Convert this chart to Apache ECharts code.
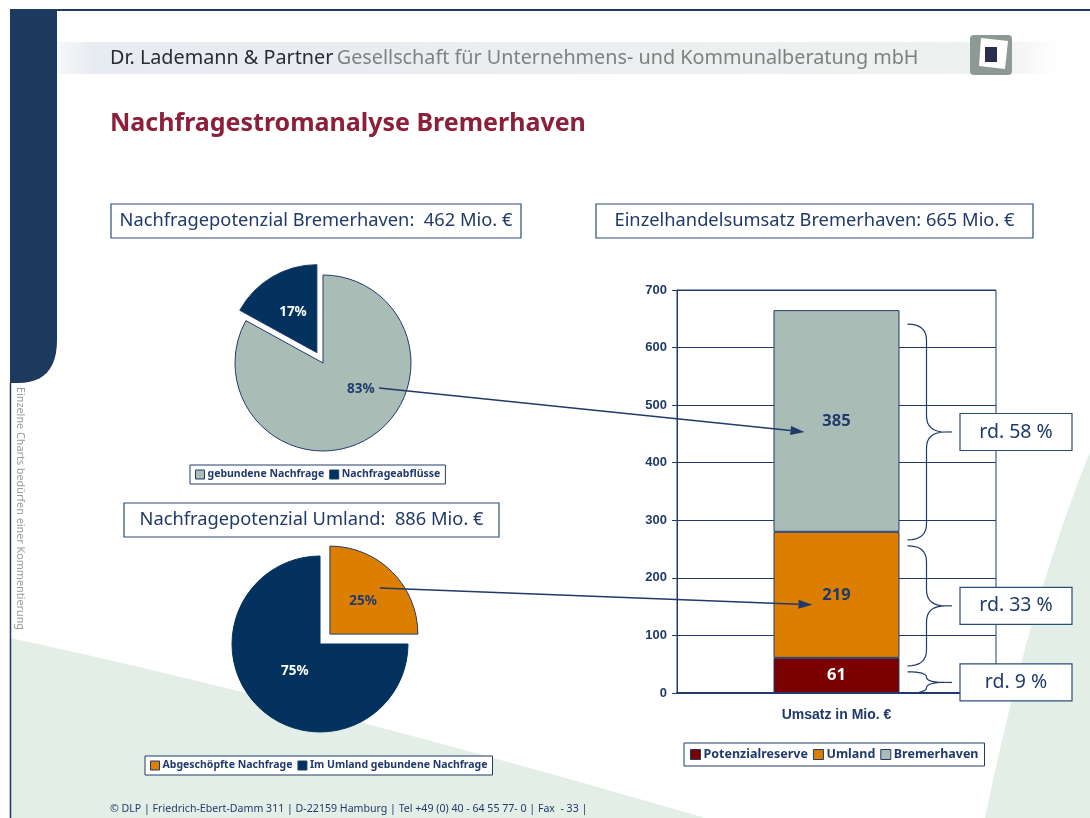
<!DOCTYPE html>
<html>
<head>
<meta charset="utf-8">
<title>Nachfragestromanalyse Bremerhaven</title>
<script src="https://cdn.jsdelivr.net/npm/echarts@6/dist/echarts.min.js"></script>
<style>
  html, body { margin: 0; padding: 0; background: #fff; }
  #chart { width: 1090px; height: 818px; }
</style>
</head>
<body>
<div id="chart"></div>
<script>
// Daten
const bremerhavenNames = ['gebundene Nachfrage', 'Nachfrageabflüsse']
const bremerhavenShares = [83, 17]
const umlandNames = ['Abgeschöpfte Nachfrage', 'Im Umland gebundene Nachfrage']
const umlandShares = [25, 75]
const umsatzCategories = ['Umsatz in Mio. €']
const umsatzSeriesNames = ['Potenzialreserve', 'Umland', 'Bremerhaven']
const potenzialreserve = [61]
const umland = [219]
const bremerhaven = [385]
const yTickMin = 0
const yTickMax = 700
const yTickStep = 100

const navy = '#1f3a6b'
const font = '"Noto Sans", sans-serif'
const arial = '"Liberation Sans", Arial, sans-serif'
const colors = {
  gray: '#a9bdb6',
  dark: '#03325f',
  orange: '#dc7f00',
  red: '#7b0000'
}

const chart = echarts.init(document.getElementById('chart'))

const legendBase = (size) => ({
  orient: 'horizontal',
  icon: 'rect',
  itemWidth: 9,
  itemHeight: 9,
  itemGap: 5,
  selectedMode: false,
  borderColor: navy,
  borderWidth: 1,
  padding: [4, 5],
  backgroundColor: '#fff',
  itemStyle: { borderColor: navy, borderWidth: 1 },
  textStyle: { color: navy, fontWeight: 'bold', fontSize: size, fontFamily: font, padding: [0, 0, 0, -2] }
})

const pieLabel = (color) => ({
  show: true,
  position: 'inside',
  formatter: '{c}%',
  color: color,
  fontSize: 13.5,
  fontWeight: 'bold',
  fontFamily: font
})

const barLabel = (color) => ({
  show: true, position: 'inside', color: color, fontSize: 16.5, fontWeight: 'bold', fontFamily: font
})

const option = {
  animation: false,
  legend: [
    Object.assign(legendBase(10.5), { left: 190, top: 465, data: bremerhavenNames }),
    Object.assign(legendBase(10.5), { left: 145, top: 756, data: umlandNames }),
    Object.assign(legendBase(12.5), { left: 684, top: 743, padding: [5, 6], itemWidth: 10, itemHeight: 10, data: umsatzSeriesNames })
  ],
  grid: { left: 677, top: 290, width: 319, height: 403, show: true, borderColor: navy, borderWidth: 1, backgroundColor: 'transparent' },
  xAxis: {
    type: 'category',
    data: umsatzCategories,
    axisLine: { lineStyle: { color: navy, width: 2 } },
    axisTick: { show: false },
    axisLabel: { color: navy, fontWeight: 'bold', fontSize: 14, fontFamily: arial, margin: 15 }
  },
  yAxis: {
    type: 'value',
    min: yTickMin,
    max: yTickMax,
    interval: yTickStep,
    axisLine: { show: true, lineStyle: { color: navy, width: 1 } },
    axisTick: { show: true, length: 5, lineStyle: { color: navy } },
    splitLine: { lineStyle: { color: navy, width: 1 } },
    axisLabel: { color: navy, fontWeight: 'bold', fontSize: 13, fontFamily: arial, margin: 10 }
  },
  series: [
    {
      type: 'pie',
      center: [323, 363],
      radius: 88,
      startAngle: 90,
      clockwise: true,
      selectedMode: 'multiple',
      selectedOffset: 12,
      emphasis: { disabled: true },
      itemStyle: { borderColor: navy, borderWidth: 1 },
      labelLine: { show: false },
      data: [
        { name: bremerhavenNames[0], value: bremerhavenShares[0], itemStyle: { color: colors.gray }, label: Object.assign(pieLabel(navy), { offset: [14, -14] }) },
        { name: bremerhavenNames[1], value: bremerhavenShares[1], selected: true, itemStyle: { color: colors.dark }, label: Object.assign(pieLabel('#fff'), { offset: [0, 4] }) }
      ]
    },
    {
      type: 'pie',
      center: [320, 644],
      radius: 88,
      startAngle: 90,
      clockwise: true,
      selectedMode: 'multiple',
      selectedOffset: 14,
      emphasis: { disabled: true },
      itemStyle: { borderColor: navy, borderWidth: 1 },
      labelLine: { show: false },
      data: [
        { name: umlandNames[0], value: umlandShares[0], selected: true, itemStyle: { color: colors.orange }, label: Object.assign(pieLabel(navy), { offset: [23, -13] }) },
        { name: umlandNames[1], value: umlandShares[1], itemStyle: { color: colors.dark, borderColor: colors.dark }, label: Object.assign(pieLabel('#fff'), { offset: [8, -6] }) }
      ]
    },
    {
      name: umsatzSeriesNames[0], type: 'bar', stack: 'umsatz', barWidth: 126, data: potenzialreserve,
      itemStyle: { color: colors.red, borderColor: navy, borderWidth: 1 },
      label: barLabel('#fff')
    },
    {
      name: umsatzSeriesNames[1], type: 'bar', stack: 'umsatz', barWidth: 126, data: umland,
      itemStyle: { color: colors.orange, borderColor: navy, borderWidth: 1 },
      label: barLabel(navy)
    },
    {
      name: umsatzSeriesNames[2], type: 'bar', stack: 'umsatz', barWidth: 126, data: bremerhaven,
      itemStyle: { color: colors.gray, borderColor: navy, borderWidth: 1 },
      label: barLabel(navy)
    }
  ]
}

chart.setOption(option)

// quadratische Kurve als Punktliste (graphic kennt keinen 'path'-Typ)
function quad (p0, c, p1, n) {
  const pts = []
  for (let i = 1; i <= n; i++) {
    const t = i / n
    const a = (1 - t) * (1 - t)
    const b = 2 * (1 - t) * t
    const d = t * t
    pts.push([a * p0[0] + b * c[0] + d * p1[0], a * p0[1] + b * c[1] + d * p1[1]])
  }
  return pts
}

function textBox (x, y, w, h, text, size) {
  return [
    { type: 'rect', z: 20, shape: { x: x, y: y, width: w, height: h }, style: { fill: '#fff', stroke: '#2a4d7a', lineWidth: 1.2 } },
    { type: 'text', z: 21, x: x + w / 2, y: y + h / 2, style: { text: text, fill: navy, font: size + 'px ' + font, textAlign: 'center', textVerticalAlign: 'middle' } }
  ]
}

function brace (x, y1, y2, w) {
  const xm = x + w / 2
  const ym = (y1 + y2) / 2
  const r = Math.min(16, (y2 - y1) / 4)
  let pts = [[x, y1]]
  pts = pts.concat(quad([x, y1], [xm, y1], [xm, y1 + r], 8))
  pts.push([xm, ym - r])
  pts = pts.concat(quad([xm, ym - r], [xm, ym], [x + w, ym], 8))
  pts = pts.concat(quad([x + w, ym], [xm, ym], [xm, ym + r], 8))
  pts.push([xm, y2 - r])
  pts = pts.concat(quad([xm, y2 - r], [xm, y2], [x, y2], 8))
  return { type: 'polyline', z: 20, shape: { points: pts }, style: { fill: null, stroke: navy, lineWidth: 1.2 } }
}

function arrow (from, to) {
  const dx = to[0] - from[0]
  const dy = to[1] - from[1]
  const len = Math.sqrt(dx * dx + dy * dy)
  const ux = dx / len
  const uy = dy / len
  const hl = 14
  const hw = 4.5
  const bx = to[0] - ux * hl
  const by = to[1] - uy * hl
  return [
    { type: 'line', z: 30, shape: { x1: from[0], y1: from[1], x2: bx, y2: by }, style: { stroke: navy, lineWidth: 1.4 } },
    { type: 'polygon', z: 30, shape: { points: [to, [bx - uy * hw, by + ux * hw], [bx + uy * hw, by - ux * hw]] }, style: { fill: navy } }
  ]
}

const total = potenzialreserve[0] + umland[0] + bremerhaven[0]
const segments = [
  { lo: 0, hi: potenzialreserve[0], v: potenzialreserve[0] },
  { lo: potenzialreserve[0], hi: potenzialreserve[0] + umland[0], v: umland[0] },
  { lo: potenzialreserve[0] + umland[0], hi: total, v: bremerhaven[0] }
]
const cat = umsatzCategories[0]
const px = (v) => chart.convertToPixel({ gridIndex: 0 }, [cat, v])
const zeroY = px(0)[1]
const barX = px(0)[0]

const greenLeft = [[10, 638]].concat(quad([10, 638], [300, 700], [705, 818], 20), [[10, 818]])
const greenRight = [[1090, 452]].concat(quad([1090, 452], [1030, 600], [985, 818], 20), [[1090, 818]])
const leftBar = [[10, 10], [57, 10], [57, 340]].concat(quad([57, 340], [57, 383], [18, 383], 12), [[10, 383]])

const graphics = [
  // Hintergrundflaechen
  { type: 'polygon', z: -10, shape: { points: greenLeft }, style: { fill: '#e3eee6' } },
  { type: 'polygon', z: -10, shape: { points: greenRight }, style: { fill: '#e3eee6' } },
  // Kopfband
  {
    type: 'rect', z: -5, shape: { x: 40, y: 42, width: 1020, height: 32 },
    style: { fill: new echarts.graphic.LinearGradient(0, 0, 1, 0, [
      { offset: 0, color: 'rgba(215,222,232,0)' },
      { offset: 0.06, color: 'rgba(228,233,240,0.9)' },
      { offset: 0.94, color: 'rgba(236,240,238,0.9)' },
      { offset: 1, color: 'rgba(236,240,238,0)' }
    ]) }
  },
  // linker Balken und Rahmen
  { type: 'polygon', z: 5, shape: { points: leftBar }, style: { fill: '#1d3a5f' } },
  { type: 'line', z: 5, shape: { x1: 10, y1: 10, x2: 1090, y2: 10 }, style: { stroke: '#1d3a5f', lineWidth: 2 } },
  { type: 'line', z: 5, shape: { x1: 10.5, y1: 383, x2: 10.5, y2: 818 }, style: { stroke: '#1d3a5f', lineWidth: 1.5 } },
  {
    type: 'text', z: 5, x: 26, y: 387, rotation: -Math.PI / 2,
    style: { text: 'Einzelne Charts bedürfen einer Kommentierung', fill: '#9a9a9a', font: '10.8px ' + font, textVerticalAlign: 'top' }
  },
  // Kopfzeile
  {
    type: 'text', z: 5, x: 110, y: 58,
    style: {
      text: '{a|Dr. Lademann & Partner} {b|Gesellschaft für Unternehmens- und Kommunalberatung mbH}',
      textVerticalAlign: 'middle',
      rich: {
        a: { fill: '#2b2b33', font: '19.8px ' + font },
        b: { fill: '#808080', font: '19.8px ' + font }
      }
    }
  },
  // Logo
  { type: 'rect', z: 5, shape: { x: 970, y: 35, width: 42, height: 40, r: 4 }, style: { fill: '#8d9a94' } },
  { type: 'polygon', z: 6, shape: { points: [[981, 38], [1008, 41], [1005, 69], [979, 66]] }, style: { fill: '#fff' } },
  { type: 'rect', z: 7, shape: { x: 985, y: 47, width: 12, height: 15 }, style: { fill: '#2b2d4f' } },
  // Titel
  {
    type: 'text', z: 5, x: 110, y: 124,
    style: { text: 'Nachfragestromanalyse Bremerhaven', fill: '#8c1f3a', font: 'bold 25px ' + font, textVerticalAlign: 'middle' }
  },
  // Fusszeile
  {
    type: 'text', z: 5, x: 110, y: 809,
    style: { text: '© DLP | Friedrich-Ebert-Damm 311 | D-22159 Hamburg | Tel +49 (0) 40 - 64 55 77- 0 | Fax  - 33 |', fill: navy, font: '10.6px ' + font, textVerticalAlign: 'middle' }
  }
]

graphics.push(...textBox(111, 204, 410, 34, 'Nachfragepotenzial Bremerhaven:  462 Mio. €', 18.3))
graphics.push(...textBox(596, 204, 437, 34, 'Einzelhandelsumsatz Bremerhaven: 665 Mio. €', 18.3))
graphics.push(...textBox(124, 503, 375, 34, 'Nachfragepotenzial Umland:  886 Mio. €', 18.3))

// Klammern mit Anteilen rechts neben dem Balken
segments.forEach((s) => {
  const yTop = px(s.hi)[1] + 14
  const yBot = Math.min(px(s.lo)[1] + 8, zeroY)
  const yMid = (yTop + yBot) / 2
  const bx = barX + 71
  graphics.push(brace(bx, yTop, yBot, 38))
  graphics.push({ type: 'line', z: 20, shape: { x1: bx + 38, y1: yMid, x2: 952, y2: yMid }, style: { stroke: navy, lineWidth: 1.2 } })
  graphics.push(...textBox(960, yMid - 18.5, 112, 37, 'rd. ' + Math.round(s.v / total * 100) + ' %', 19.5))
})

// Pfeile von den Kreisanteilen zu den Balkensegmenten
const midB = px((segments[2].lo + segments[2].hi) / 2)
const midU = px((segments[1].lo + segments[1].hi) / 2)
graphics.push(...arrow([379, 388], [barX - 32, midB[1] + 11]))
graphics.push(...arrow([380, 588], [barX - 24, midU[1] + 10]))

chart.setOption({ graphic: graphics })
</script>
</body>
</html>
